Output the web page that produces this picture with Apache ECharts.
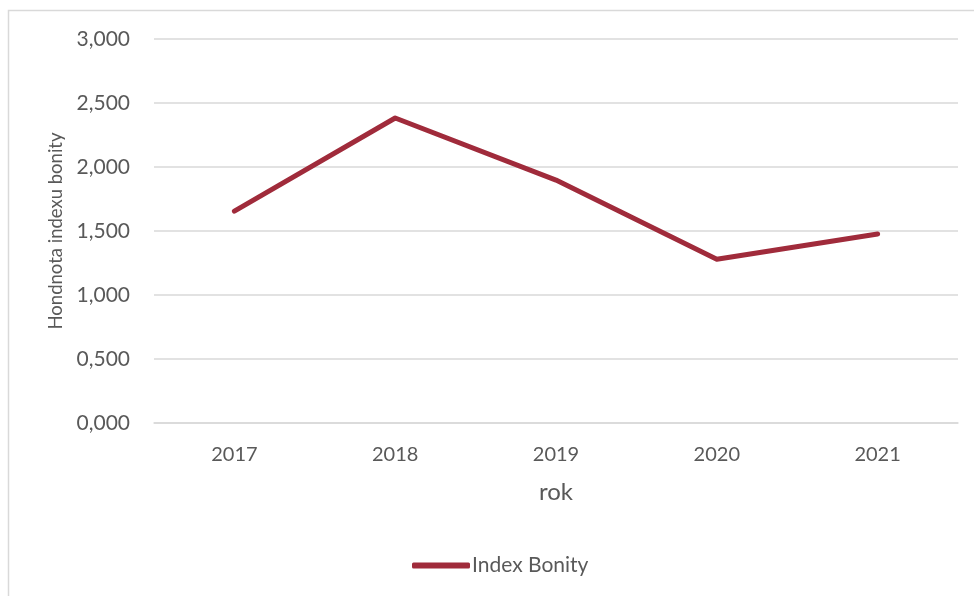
<!DOCTYPE html>
<html>
<head>
<meta charset="utf-8">
<script src="https://cdn.jsdelivr.net/npm/echarts@6/dist/echarts.min.js"></script>
<style>
html,body{margin:0;padding:0;background:#fff;}
#c{width:974px;height:596px;}
</style>
</head>
<body>
<div id="c"></div>
<script>
var categories = ['2017', '2018', '2019', '2020', '2021'];
var indexBonity = [1.655, 2.383, 1.898, 1.280, 1.477];
var seriesName = 'Index Bonity';
var yTicks = { min: 0, max: 3, interval: 0.5 };

var FONT = 'Lato';
var TXT = '#595959';
var chart = echarts.init(document.getElementById('c'));
chart.setOption({
  animation: false,
  backgroundColor: '#fff',
  textStyle: { fontFamily: FONT },
  graphic: [{
    type: 'rect',
    shape: { x: 8.5, y: 10.5, width: 1200, height: 1200 },
    style: { fill: 'none', stroke: '#D9D9D9', lineWidth: 1.5 },
    silent: true
  }],
  grid: { left: 154, right: 16, top: 39, bottom: 173 },
  legend: {
    left: 407, top: 550,
    itemWidth: 58, itemHeight: 6, itemGap: 10,
    icon: 'roundRect',
    textStyle: { fontFamily: FONT, fontSize: 21, color: TXT, padding: [0, 0, 0, -3] },
    data: [seriesName]
  },
  xAxis: {
    type: 'category',
    data: categories,
    boundaryGap: true,
    name: 'rok',
    nameLocation: 'middle',
    nameGap: 57,
    nameTextStyle: { fontFamily: FONT, fontSize: 24, color: TXT },
    axisLine: { lineStyle: { color: '#D9D9D9', width: 1.5 } },
    axisTick: { show: false },
    axisLabel: { fontFamily: FONT, fontSize: 20, color: TXT, margin: 22 }
  },
  yAxis: {
    type: 'value',
    min: yTicks.min, max: yTicks.max, interval: yTicks.interval,
    name: 'Hondnota indexu bonity',
    nameLocation: 'middle',
    nameRotate: 90,
    nameGap: 84,
    nameTextStyle: { fontFamily: FONT, fontSize: 18.5, color: TXT },
    axisLine: { show: false },
    axisTick: { show: false },
    splitLine: { lineStyle: { color: '#D9D9D9', width: 1.5 } },
    axisLabel: {
      fontFamily: FONT, fontSize: 21, color: TXT, margin: 24,
      formatter: function (v) { return v.toFixed(3).replace('.', ','); }
    }
  },
  series: [{
    name: seriesName,
    type: 'line',
    data: indexBonity,
    showSymbol: false,
    symbol: 'none',
    color: '#A02B3B',
    lineStyle: { color: '#A02B3B', width: 5, cap: 'round', join: 'round' },
    itemStyle: { color: '#A02B3B' }
  }]
});
</script>
</body>
</html>
